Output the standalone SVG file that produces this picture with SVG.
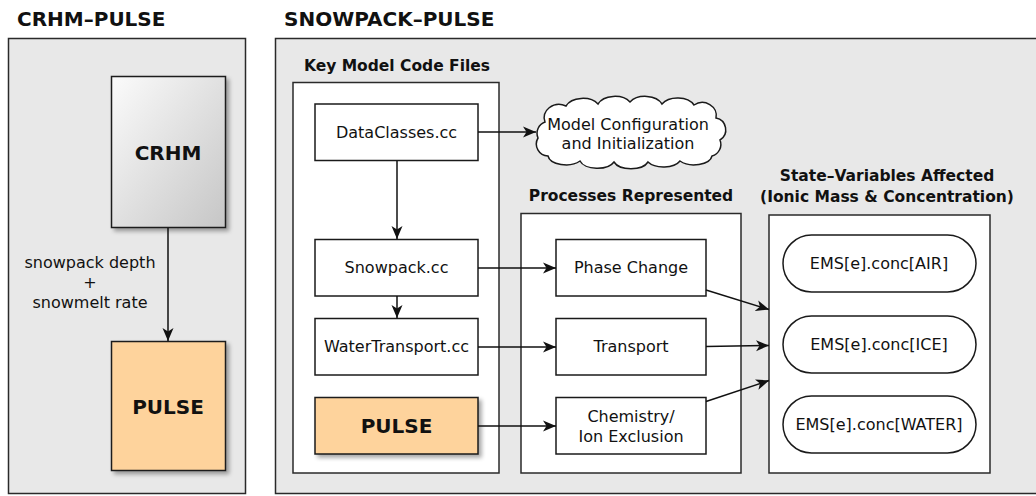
<svg xmlns="http://www.w3.org/2000/svg" width="1036" height="496" viewBox="0 0 1036 496">
  <defs>
    <style>
      .panel { fill: #e8e8e8; stroke: #2a2a2a; stroke-width: 1.5; }
      .frame { fill: #ffffff; stroke: #2a2a2a; stroke-width: 1.5; }
      .box { fill: #ffffff; stroke: #1a1a1a; stroke-width: 1.5; }
      .pulse { fill: #fed39c; stroke: #1a1a1a; stroke-width: 1.5; }
      .title { font-family: "DejaVu Sans", "Liberation Sans", sans-serif; font-weight: bold; font-size: 20px; fill: #111; }
      .head { font-family: "DejaVu Sans", "Liberation Sans", sans-serif; font-weight: bold; font-size: 15.5px; fill: #111; text-anchor: middle; }
      .big { font-family: "DejaVu Sans", "Liberation Sans", sans-serif; font-weight: bold; font-size: 20px; fill: #111; text-anchor: middle; }
      .lbl { font-family: "DejaVu Sans", "Liberation Sans", sans-serif; font-size: 16px; fill: #111; text-anchor: middle; }
      .conn { stroke: #111; stroke-width: 1.5; fill: none; marker-end: url(#arrow); }
    </style>
    <marker id="arrow" markerUnits="userSpaceOnUse" markerWidth="14" markerHeight="12" refX="13" refY="6" orient="auto">
      <path d="M0,0.5 L13,6 L0,11.5 L3.5,6 Z" fill="#111"/>
    </marker>
    <linearGradient id="grey" x1="0" y1="0" x2="1" y2="1">
      <stop offset="0" stop-color="#fbfbfb"/>
      <stop offset="1" stop-color="#c6c6c6"/>
    </linearGradient>
    <filter id="shadow" x="-20%" y="-20%" width="150%" height="150%">
      <feGaussianBlur in="SourceAlpha" stdDeviation="2.2"/>
      <feOffset dx="2.5" dy="3" result="b"/>
      <feComponentTransfer><feFuncA type="linear" slope="0.35"/></feComponentTransfer>
      <feMerge><feMergeNode/><feMergeNode in="SourceGraphic"/></feMerge>
    </filter>
  </defs>

  <!-- left panel: coupled CRHM model -->
  <g id="panel-crhm">
    <text class="title" x="17" y="26">CRHM–PULSE</text>
    <rect class="panel" x="8.5" y="38.5" width="237" height="455"/>
  </g>

  <!-- right panel: SNOWPACK model -->
  <g id="panel-snowpack">
    <text class="title" x="284" y="26">SNOWPACK–PULSE</text>
    <rect class="panel" x="275.5" y="38.5" width="775" height="455"/>
  </g>

  <g id="frame-code">
    <text class="head" x="397" y="71">Key Model Code Files</text>
    <rect class="frame" x="293" y="82.5" width="206" height="390.5"/>
  </g>

  <g id="frame-processes">
    <text class="head" x="631" y="201">Processes Represented</text>
    <rect class="frame" x="521" y="213.5" width="220" height="259.5"/>
  </g>

  <g id="frame-state">
    <text class="head" x="887" y="181">State–Variables Affected</text>
    <text class="head" x="887" y="202">(Ionic Mass &amp; Concentration)</text>
    <rect class="frame" x="769" y="215" width="221" height="258"/>
  </g>

  <g id="node-crhm">
    <rect x="111.5" y="76.5" width="114" height="151" fill="url(#grey)" stroke="#1a1a1a" stroke-width="1.5" filter="url(#shadow)"/>
    <text class="big" x="168" y="160">CRHM</text>
  </g>

  <g id="node-pulse-left">
    <rect class="pulse" x="111.5" y="341.5" width="114" height="129" filter="url(#shadow)"/>
    <text class="big" x="168" y="414">PULSE</text>
  </g>

  <g id="label-coupling">
    <text class="lbl" x="90" y="268">snowpack depth</text>
    <text class="lbl" x="90" y="288">+</text>
    <text class="lbl" x="90" y="308">snowmelt rate</text>
  </g>

  <g id="node-dataclasses">
    <rect class="box" x="315" y="104" width="163" height="56.5"/>
    <text class="lbl" x="396.5" y="138">DataClasses.cc</text>
  </g>

  <g id="node-snowpack">
    <rect class="box" x="315" y="239.5" width="163" height="56.5"/>
    <text class="lbl" x="396.5" y="273">Snowpack.cc</text>
  </g>

  <g id="node-watertransport">
    <rect class="box" x="315" y="318.5" width="163" height="56.5"/>
    <text class="lbl" x="396.5" y="352">WaterTransport.cc</text>
  </g>

  <g id="node-pulse">
    <rect class="pulse" x="315" y="397.5" width="163" height="56.5" filter="url(#shadow)"/>
    <text class="big" x="396.5" y="433">PULSE</text>
  </g>

  <g id="node-config">
    <path class="box" d="M545,122 A15,13 0 0 1 566,106 A18,12 0 0 1 598,104 A18,12 0 0 1 630,102 A18,12 0 0 1 662,104 A18,12 0 0 1 694,105 A14,13 0 0 1 716,118 A12,12 0 0 1 720,140 A12,12 0 0 1 712,156 A18,10 0 0 1 680,161 A18,10 0 0 1 648,162 A18,10 0 0 1 614,162 A18,10 0 0 1 580,161 A18,10 0 0 1 548,156 A12,12 0 0 1 538,138 A12,12 0 0 1 545,122 Z"/>
    <text class="lbl" x="628" y="130">Model Configuration</text>
    <text class="lbl" x="628" y="149">and Initialization</text>
  </g>

  <g id="node-phase">
    <rect class="box" x="556" y="239.5" width="150" height="56.5"/>
    <text class="lbl" x="631" y="273">Phase Change</text>
  </g>

  <g id="node-transport">
    <rect class="box" x="556" y="318.5" width="150" height="56.5"/>
    <text class="lbl" x="631" y="352">Transport</text>
  </g>

  <g id="node-chemistry">
    <rect class="box" x="556" y="397.5" width="150" height="56.5"/>
    <text class="lbl" x="631" y="422">Chemistry/</text>
    <text class="lbl" x="631" y="442">Ion Exclusion</text>
  </g>

  <g id="node-air">
    <rect class="box" x="783" y="235" width="193" height="57" rx="28.5" ry="28.5"/>
    <text class="lbl" x="879" y="269">EMS[e].conc[AIR]</text>
  </g>

  <g id="node-ice">
    <rect class="box" x="783" y="316" width="193" height="57" rx="28.5" ry="28.5"/>
    <text class="lbl" x="879" y="350">EMS[e].conc[ICE]</text>
  </g>

  <g id="node-water">
    <rect class="box" x="783" y="396" width="193" height="57" rx="28.5" ry="28.5"/>
    <text class="lbl" x="879" y="430">EMS[e].conc[WATER]</text>
  </g>

  <g id="connectors">
    <line class="conn" x1="168" y1="228" x2="168" y2="341"/>
    <line class="conn" x1="478" y1="132" x2="536" y2="132"/>
    <line class="conn" x1="397" y1="161" x2="397" y2="239"/>
    <line class="conn" x1="397" y1="296" x2="397" y2="318"/>
    <line class="conn" x1="478" y1="268" x2="556" y2="268"/>
    <line class="conn" x1="478" y1="347" x2="556" y2="347"/>
    <line class="conn" x1="478" y1="426" x2="556" y2="426"/>
    <line class="conn" x1="706" y1="290" x2="769" y2="309.5"/>
    <line class="conn" x1="706" y1="346.5" x2="769" y2="345.5"/>
    <line class="conn" x1="706" y1="401.5" x2="769" y2="380.5"/>
  </g>
</svg>
